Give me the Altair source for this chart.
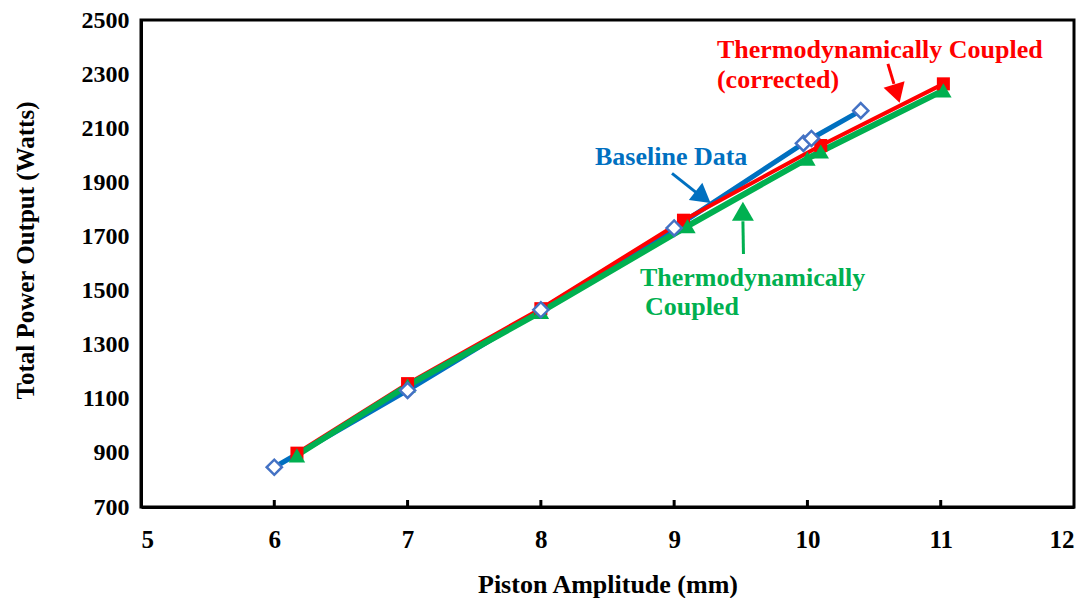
import altair as alt
import pandas as pd

# ---- data ----
base_x = [6.0, 7.0, 8.0, 9.0, 9.97, 10.03, 10.40]
base_y = [847, 1131, 1429, 1731, 2044, 2062, 2165]

corr_x = [6.17, 7.0, 8.0, 9.07, 10.1, 11.02]
corr_y = [899, 1156, 1433, 1760, 2036, 2264]

coup_x = [6.17, 7.0, 8.0, 9.1, 10.0, 10.1, 11.02]
coup_y = [891, 1149, 1421, 1738, 1988, 2014, 2240]

x_ticks = [5, 6, 7, 8, 9, 10, 11, 12]
y_ticks = [700, 900, 1100, 1300, 1500, 1700, 1900, 2100, 2300, 2500]

BLUE_LINE = "#0070C0"
BLUE_MARK = "#4472C4"
RED = "#FF0000"
GREEN = "#00B050"
FONT = "Liberation Serif"

W, H = 933, 487

xs = alt.Scale(domain=[5, 12], nice=False)
ys = alt.Scale(domain=[700, 2500], nice=False)

x_enc = alt.X(
    "x:Q", scale=xs,
    axis=alt.Axis(values=x_ticks, title="Piston Amplitude (mm)", grid=False,
                  ticks=False, labelPadding=20, labelFontSize=25, labelFont=FONT,
                  labelFontWeight="bold", labelColor="black",
                  titleFont=FONT, titleFontSize=26, titleFontWeight="bold",
                  titleColor="black", titleY=77, titleBaseline="middle",
                  domainColor="black", domainWidth=3, format="d"),
)
y_enc = alt.Y(
    "y:Q", scale=ys,
    axis=alt.Axis(values=y_ticks, title="Total Power Output (Watts)", grid=False,
                  ticks=False, labelPadding=12, labelFontSize=24, labelFont=FONT,
                  labelFontWeight="bold", labelColor="black",
                  titleFont=FONT, titleFontSize=25, titleFontWeight="bold",
                  titleColor="black", titleX=-116, titleY=230,
                  titleBaseline="middle", titleAlign="center", titleAngle=-90,
                  domainColor="black", domainWidth=3, format="d"),
)

df_base = pd.DataFrame({"x": base_x, "y": base_y})
df_corr = pd.DataFrame({"x": corr_x, "y": corr_y})
df_coup = pd.DataFrame({"x": coup_x, "y": coup_y})

def xq():
    return alt.X("x:Q", scale=xs)

def yq():
    return alt.Y("y:Q", scale=ys)

base_line = alt.Chart(df_base).mark_line(color=BLUE_LINE, strokeWidth=5).encode(x=x_enc, y=y_enc)
corr_line = alt.Chart(df_corr).mark_line(color=RED, strokeWidth=4).encode(x=xq(), y=yq())
coup_line = alt.Chart(df_coup).mark_line(color=GREEN, strokeWidth=6).encode(x=xq(), y=yq())

corr_pts = alt.Chart(df_corr).mark_point(shape="square", filled=True, color=RED, size=170, opacity=1).encode(x=xq(), y=yq())
coup_pts = alt.Chart(df_coup).mark_point(shape="triangle-up", filled=True, color=GREEN, size=270, opacity=1).encode(x=xq(), y=yq())
base_pts = alt.Chart(df_base).mark_point(shape="diamond", filled=True, fill="white", stroke=BLUE_MARK,
                                          strokeWidth=2.5, size=230, opacity=1).encode(x=xq(), y=yq())

# inner ticks on x axis
tick_df = pd.DataFrame({"x": x_ticks[1:-1]})
ticks = alt.Chart(tick_df).mark_rule(color="black", strokeWidth=3).encode(
    x=xq(), y=alt.value(H), y2=alt.value(H - 7))

# annotations
texts = pd.DataFrame({
    "x": [9.321, 9.321, 8.406, 8.743, 8.781],
    "y": [2390, 2279, 1992, 1547, 1440],
    "t": ["Thermodynamically Coupled", "(corrected)", "Baseline Data",
          "Thermodynamically", "Coupled"],
    "c": [RED, RED, BLUE_LINE, GREEN, GREEN],
})
text_layer = alt.Chart(texts).mark_text(
    align="left", baseline="middle", font=FONT, fontSize=26, fontWeight="bold"
).encode(x=xq(), y=yq(), text="t:N", color=alt.Color("c:N", scale=None))

shafts = pd.DataFrame({
    "x": [10.604, 8.984, 9.52],
    "y": [2338, 1933, 1635],
    "x2": [10.649, 9.164, 9.516],
    "y2": [2264, 1863, 1756],
    "c": [RED, BLUE_LINE, GREEN],
})
shaft_layer = alt.Chart(shafts).mark_rule(strokeWidth=3).encode(
    x=xq(), y=yq(), x2="x2:Q", y2="y2:Q", color=alt.Color("c:N", scale=None))

heads = pd.DataFrame({
    "x": [10.671, 9.217, 9.516],
    "y": [2228, 1845, 1793],
    "a": [163, 128, 0],
    "c": [RED, BLUE_LINE, GREEN],
})
head_layer = alt.Chart(heads).mark_point(shape="triangle-up", filled=True, size=480, opacity=1).encode(
    x=xq(), y=yq(), angle=alt.Angle("a:Q", scale=None), color=alt.Color("c:N", scale=None))

chart = alt.layer(
    base_line, corr_line, coup_line, ticks,
    corr_pts, coup_pts, base_pts,
    shaft_layer, head_layer, text_layer,
).properties(
    width=W, height=H,
    autosize=alt.AutoSizeParams(type="none"),
    padding={"left": 133, "top": 12, "right": 4, "bottom": 91},
    background="white",
).configure_view(stroke="black", strokeWidth=3)

chart.save("out.html", embed_options={"renderer": "svg", "actions": False})
